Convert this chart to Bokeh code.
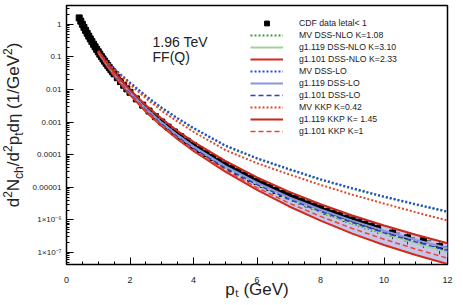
from bokeh.plotting import figure
from bokeh.models import FixedTicker, Label, Legend, LegendItem, Range1d, Div
from bokeh.layouts import row
from bokeh.embed import file_html
from bokeh.resources import INLINE

# ---------------- data ----------------
# CDF data |eta|<1 : pt (GeV) and log10 of d2N/d2pt deta
data_pt = [0.40, 0.45, 0.50, 0.55, 0.60, 0.65, 0.70, 0.75, 0.80, 0.85, 0.90, 0.95,
           1.00, 1.05, 1.10, 1.15, 1.20, 1.25, 1.30, 1.35, 1.40, 1.45, 1.50,
           1.6, 1.7, 1.8, 1.9, 2.0,
           2.2, 2.4, 2.6, 2.8, 3.0, 3.2, 3.4, 3.6, 3.8, 4.0,
           4.2, 4.4, 4.6, 4.8, 5.0, 5.2, 5.4, 5.6, 5.8, 6.0,
           6.2, 6.4, 6.6, 6.8, 7.0, 7.2, 7.4, 7.6, 7.8, 8.0,
           8.2, 8.4, 8.6, 8.8, 9.0, 9.2, 9.4, 9.6, 9.8,
           10.27, 10.74, 11.24, 11.75]
data_log10 = [0.200, 0.100, 0.003, -0.091, -0.183, -0.273, -0.360, -0.445, -0.528, -0.609, -0.688, -0.765,
              -0.841, -0.915, -0.988, -1.059, -1.128, -1.196, -1.263, -1.329, -1.393, -1.456, -1.519,
              -1.639, -1.756, -1.869, -1.978, -2.084,
              -2.287, -2.478, -2.660, -2.832, -2.996, -3.153, -3.302, -3.446, -3.584, -3.716,
              -3.844, -3.967, -4.085, -4.200, -4.311, -4.419, -4.523, -4.625, -4.723, -4.819,
              -4.912, -5.002, -5.100, -5.190, -5.261, -5.343, -5.423, -5.510, -5.578, -5.652,
              -5.740, -5.798, -5.868, -5.950, -6.004, -6.071, -6.136, -6.199, -6.262,
              -6.405, -6.550, -6.640, -6.820]
# relative vertical uncertainty
data_rel_err = [0.04] * 23 + [0.06] * 5 + [0.08, 0.08, 0.09, 0.09, 0.10, 0.10, 0.11, 0.11, 0.12, 0.12,
                0.13, 0.14, 0.15, 0.16, 0.17, 0.18, 0.18, 0.19, 0.19, 0.20,
                0.20, 0.21, 0.21, 0.22, 0.22, 0.23, 0.23, 0.24, 0.24, 0.25,
                0.26, 0.27, 0.28, 0.28, 0.29, 0.30, 0.30, 0.31, 0.32,
                0.35, 0.38, 0.40, 0.42]
# half bin widths (horizontal bars)
data_half_bin = [0.025] * 23 + [0.05] * 5 + [0.1] * 39 + [0.235, 0.235, 0.25, 0.25]

# theory curves: pt knots and log10 values
theory_pt = [1.0, 1.25, 1.5, 1.75, 2.0, 2.5, 3.0, 3.5, 4.0, 5.0, 6.0, 7.0, 8.0, 9.0, 10.0, 11.0, 12.0]
mv_dss_nlo = [-0.830, -1.125, -1.360, -1.585, -1.797, -2.205, -2.572, -2.893, -3.195, -3.731, -4.125, -4.455, -4.770, -5.045, -5.300, -5.535, -5.760]
g119_dss_nlo = [-0.841, -1.200, -1.527, -1.825, -2.104, -2.600, -3.036, -3.420, -3.766, -4.381, -4.899, -5.351, -5.752, -6.104, -6.423, -6.716, -6.990]
g101_dss_nlo = [-0.881, -1.246, -1.579, -1.883, -2.164, -2.680, -3.126, -3.525, -3.886, -4.521, -5.079, -5.581, -6.022, -6.424, -6.773, -7.076, -7.355]
mv_dss_lo = [-0.821, -1.116, -1.349, -1.573, -1.784, -2.190, -2.556, -2.875, -3.176, -3.711, -4.105, -4.435, -4.750, -5.025, -5.280, -5.515, -5.740]
g119_dss_lo = [-0.831, -1.196, -1.519, -1.813, -2.084, -2.580, -3.016, -3.400, -3.746, -4.351, -4.859, -5.301, -5.682, -6.024, -6.333, -6.616, -6.865]
g101_dss_lo = [-0.851, -1.220, -1.549, -1.848, -2.124, -2.625, -3.066, -3.455, -3.806, -4.411, -4.919, -5.361, -5.742, -6.084, -6.393, -6.676, -6.935]
mv_kkp = [-0.840, -1.150, -1.390, -1.620, -1.845, -2.270, -2.655, -2.985, -3.296, -3.856, -4.260, -4.600, -4.925, -5.225, -5.500, -5.765, -6.020]
g119_kkp = [-0.801, -1.146, -1.459, -1.743, -2.004, -2.480, -2.896, -3.275, -3.606, -4.191, -4.699, -5.131, -5.522, -5.864, -6.173, -6.456, -6.715]
g101_kkp = [-0.861, -1.226, -1.559, -1.853, -2.144, -2.650, -3.096, -3.495, -3.846, -4.471, -5.009, -5.481, -5.892, -6.264, -6.593, -6.896, -7.175]

series_labels = ["CDF data letal< 1", "MV DSS-NLO K=1.08", "g1.119 DSS-NLO K=3.10", "g1.101 DSS-NLO K=2.33",
                 "MV DSS-LO", "g1.119 DSS-LO", "g1.101 DSS-LO", "MV KKP K=0.42",
                 "g1.119 KKP K= 1.45", "g1.101 KKP K=1"]

x_ticks = [0, 2, 4, 6, 8, 10, 12]
y_ticks = [1.0, 0.1, 0.01, 0.001, 0.0001, 0.00001, 1e-6, 1e-7]
y_tick_labels = ["1", "0.1", "0.01", "0.001", "0.0001", "0.00001", "1\u00d710\u207b\u2076", "1\u00d710\u207b\u2077"]


def lin(vals):
    return [10 ** v for v in vals]


FONT = "Liberation Sans"
H = 301

p = figure(width=433, height=H, output_backend="svg", toolbar_location=None,
           y_axis_type="log", x_range=Range1d(0, 12), y_range=Range1d(10 ** -7.37, 10 ** 0.58),
           min_border_left=40, min_border_right=12, min_border_top=5, min_border_bottom=36)
p.background_fill_color = "white"
p.border_fill_color = "white"
p.outline_line_color = "black"
p.outline_line_width = 1.5
p.xgrid.visible = False
p.ygrid.visible = False

# axes
p.xaxis.ticker = FixedTicker(ticks=x_ticks, minor_ticks=[i * 0.5 for i in range(25)])
p.yaxis.ticker = FixedTicker(ticks=y_ticks,
                             minor_ticks=[k * 10.0 ** e for e in range(-8, 1) for k in range(2, 10)])
p.yaxis.major_label_overrides = {t: s for t, s in zip(y_ticks, y_tick_labels)}
for ax in (p.xaxis, p.yaxis):
    ax.major_tick_in = 7
    ax.major_tick_out = 0
    ax.minor_tick_in = 3
    ax.minor_tick_out = 0
    ax.axis_line_color = "black"
    ax.major_tick_line_color = "black"
    ax.minor_tick_line_color = "black"
    ax.major_label_text_font = FONT
    ax.major_label_text_color = "#222222"
p.xaxis.major_label_text_font_size = "9px"
p.yaxis.major_label_text_font_size = "8px"
p.xaxis.major_label_standoff = 12
p.yaxis.major_label_standoff = 5
p.xaxis.axis_label = "p\u209c (GeV)"
p.xaxis.axis_label_text_font = FONT
p.xaxis.axis_label_text_font_style = "normal"
p.xaxis.axis_label_text_font_size = "17px"
p.xaxis.axis_label_text_color = "#222222"
p.xaxis.axis_label_standoff = -6

# band between the two solid red curves
p.varea(x=theory_pt, y1=lin(g101_dss_nlo), y2=lin(g119_kkp), fill_color="#c8c5ea", fill_alpha=1.0)

# data
dv = lin(data_log10)
p.segment(x0=[x - h for x, h in zip(data_pt, data_half_bin)], y0=dv,
          x1=[x + h for x, h in zip(data_pt, data_half_bin)], y1=dv, line_color="#555555", line_width=1)
p.segment(x0=data_pt, y0=[v * (1 - e) for v, e in zip(dv, data_rel_err)],
          x1=data_pt, y1=[v * (1 + e) for v, e in zip(dv, data_rel_err)], line_color="#333333", line_width=1)
r_data = p.scatter(data_pt, dv, marker="square", size=6, fill_color="black", line_color="black")

# theory curves
r1 = p.line(theory_pt, lin(mv_dss_nlo), line_color="#3c9a3c", line_width=2, line_dash="2 2")
r2 = p.line(theory_pt, lin(g119_dss_nlo), line_color="#9fd495", line_width=2)
r3 = p.line(theory_pt, lin(g101_dss_nlo), line_color="#d42a1a", line_width=2)
r4 = p.line(theory_pt, lin(mv_dss_lo), line_color="#2a4bd6", line_width=2, line_dash="2 2")
r5 = p.line(theory_pt, lin(g119_dss_lo), line_color="#8a96e2", line_width=2)
r6 = p.line(theory_pt, lin(g101_dss_lo), line_color="#2b3fc8", line_width=1.5, line_dash="5 3")
r7 = p.line(theory_pt, lin(mv_kkp), line_color="#e0462a", line_width=2, line_dash="2 2")
r8 = p.line(theory_pt, lin(g119_kkp), line_color="#c8281a", line_width=2)
r9 = p.line(theory_pt, lin(g101_kkp), line_color="#e04a36", line_width=1.5, line_dash="5 3")

legend = Legend(items=[LegendItem(label=l, renderers=[r]) for l, r in
                       zip(series_labels, [r_data, r1, r2, r3, r4, r5, r6, r7, r8, r9])],
                location=(184, 127), glyph_width=33, glyph_height=12, label_height=12,
                spacing=0, padding=0, margin=0, label_standoff=16,
                border_line_alpha=0, background_fill_alpha=0,
                label_text_font=FONT, label_text_font_size="8.7px", label_text_color="#222222")
p.add_layout(legend)

# annotation text
for txt, yv in (("1.96 TeV", 0.281), ("FF(Q)", 0.0977)):
    p.add_layout(Label(x=2.71, y=yv, text=txt, text_font=FONT, text_font_size="14px",
                       text_color="#222222", text_baseline="alphabetic"))

# rotated y-axis title with sub/superscripts
ytitle_html = (
    '<div style="position:relative;width:26px;height:%dpx;">'
    '<div style="position:absolute;left:14px;top:125px;transform:translate(-50%%,-50%%) rotate(-90deg);'
    'white-space:nowrap;font-family:\'Liberation Sans\';font-size:17px;line-height:17px;color:#222222;">'
    'd<sup style="font-size:12px;">2</sup>N<sub style="font-size:12px;">ch</sub>'
    '/d<sup style="font-size:12px;">2</sup>p<sub style="font-size:12px;">t</sub>'
    'd\u03b7 (1/GeV<sup style="font-size:12px;">2</sup>)</div></div>' % H
)
ytitle = Div(text=ytitle_html, width=26, height=H, margin=0)

layout = row(ytitle, p)
open("out.html", "w").write(file_html(layout, INLINE))
